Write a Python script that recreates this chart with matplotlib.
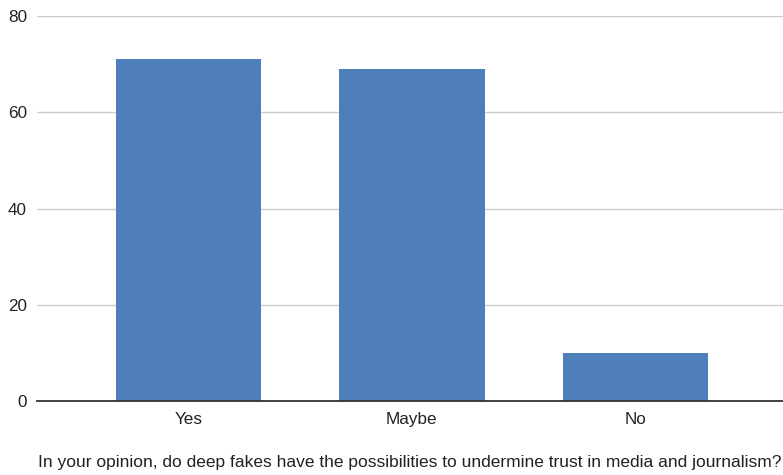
import matplotlib
matplotlib.use("Agg")
import matplotlib.pyplot as plt

categories = ["Yes", "Maybe", "No"]
counts = [71, 69, 10]
y_ticks = [0, 20, 40, 60, 80]
x_title = "In your opinion, do deep fakes have the possibilities to undermine trust in media and journalism?"

plt.rcParams["font.family"] = ["Liberation Sans", "DejaVu Sans"]

fig = plt.figure(figsize=(7.83, 4.75), dpi=100)
ax = fig.add_axes([0.047, 0.156, 0.953, 0.81])

x = list(range(len(categories)))
ax.bar(x, counts, width=0.65, color="#4e7fbb", zorder=3)

ax.set_ylim(0, 80)
ax.set_xlim(-0.678, 2.66)
ax.set_yticks(y_ticks)
ax.set_yticklabels([str(v) for v in y_ticks], fontsize=12.3, color="#222222")
ax.set_xticks(x)
ax.set_xticklabels(categories, fontsize=12.3, color="#222222")
ax.tick_params(axis="x", length=0, pad=8)
ax.tick_params(axis="y", length=0, pad=7)

ax.grid(axis="y", color="#cccccc", linewidth=1, zorder=0)
for s in ["top", "right", "left"]:
    ax.spines[s].set_visible(False)
ax.spines["bottom"].set_color("#333333")
ax.spines["bottom"].set_linewidth(1.3)
ax.spines["bottom"].set_zorder(4)

ax.set_xlabel(x_title, fontsize=12.5, color="#222222")
ax.xaxis.label.set_va("center")
ax.xaxis.set_label_coords(0.5, -0.159)

fig.savefig("out.png", dpi=100)
